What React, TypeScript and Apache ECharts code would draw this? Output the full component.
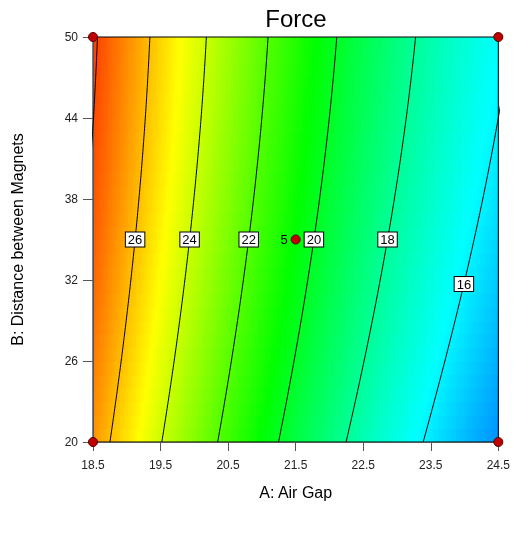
import React, { useEffect, useRef } from "react";
import * as echarts from "echarts";

// Factor ranges (A: Air Gap, B: Distance between Magnets)
const aRange = [18.5, 24.5];
const bRange = [20, 50];
const xTicks = [18.5, 19.5, 20.5, 21.5, 22.5, 23.5, 24.5];
const yTicks = [20, 26, 32, 38, 44, 50];

// Fitted quadratic response surface for Force, coded factors (-1..1)
const modelTerms = ["Intercept", "A", "B", "AB", "A^2", "B^2"];
const modelCoefs = [20.538, -6.07, 0.8485, 0.101, 1.04, -0.2185];

// Contours and their labels
const contourLevels = [16, 18, 20, 22, 24, 26, 28];
const labelLevels = [16, 18, 20, 22, 24, 26];
const labelAtB = [31.7, 35, 35, 35, 35, 35];

// Design points
const designA = [18.5, 18.5, 24.5, 24.5, 21.5];
const designB = [20, 50, 20, 50, 35];
const designRuns = [1, 1, 1, 1, 5];

// Colour scale
const colorValues = [11.9, 16.2, 20.6, 24.9, 29.2];
const colorHex = ["#0000ff", "#00ffff", "#00ff00", "#ffff00", "#ff0000"];

const FONT = "'Liberation Sans', Arial, sans-serif";

const codeA = (A: number) => (A - (aRange[0] + aRange[1]) / 2) / ((aRange[1] - aRange[0]) / 2);
const codeB = (B: number) => (B - (bRange[0] + bRange[1]) / 2) / ((bRange[1] - bRange[0]) / 2);
const uncodeA = (a: number) => (aRange[0] + aRange[1]) / 2 + a * (aRange[1] - aRange[0]) / 2;

function predict(A: number, B: number) {
  const a = codeA(A), b = codeB(B);
  const [c0, cA, cB, cAB, cA2, cB2] = modelCoefs;
  return c0 + cA * a + cB * b + cAB * a * b + cA2 * a * a + cB2 * b * b;
}

// solve predict(A,B)=L for A at given B
function solveA(L: number, B: number) {
  const b = codeB(B);
  const [c0, cA, cB, cAB, cA2, cB2] = modelCoefs;
  const p = cA2;
  const q = cA + cAB * b;
  const r = c0 + cB * b + cB2 * b * b - L;
  const disc = q * q - 4 * p * r;
  if (disc < 0) return NaN;
  const a = (-q - Math.sqrt(disc)) / (2 * p);
  return uncodeA(a);
}

function hexToRgb(h: string) {
  return [parseInt(h.slice(1, 3), 16), parseInt(h.slice(3, 5), 16), parseInt(h.slice(5, 7), 16)];
}
const stopRgb = colorHex.map(hexToRgb);

function colorFor(v: number) {
  if (v <= colorValues[0]) return colorHex[0];
  const n = colorValues.length;
  if (v >= colorValues[n - 1]) return colorHex[n - 1];
  let i = 0;
  while (i < n - 2 && v > colorValues[i + 1]) i++;
  const t = (v - colorValues[i]) / (colorValues[i + 1] - colorValues[i]);
  const c0 = stopRgb[i], c1 = stopRgb[i + 1];
  const c = c0.map((x, k) => Math.round(x + (c1[k] - x) * t));
  return `rgb(${c[0]},${c[1]},${c[2]})`;
}

export default function App() {
  const ref = useRef<HTMLDivElement>(null);
  useEffect(() => {
    if (!ref.current) return;
    const chart = echarts.init(ref.current, null, { renderer: "svg" });

    const NX = 150, NY = 30;
    const dA = (aRange[1] - aRange[0]) / NX;
    const dB = (bRange[1] - bRange[0]) / NY;
    const cells: number[][] = [];
    for (let i = 0; i < NX; i++) {
      for (let j = 0; j < NY; j++) {
        const A0 = aRange[0] + i * dA, B0 = bRange[0] + j * dB;
        cells.push([A0, A0 + dA, B0, B0 + dB, predict(A0 + dA / 2, B0 + dB / 2)]);
      }
    }

    const contourSeries = contourLevels.map((L) => {
      const pts: number[][] = [];
      for (let B = bRange[0]; B <= bRange[1] + 1e-9; B += 0.25) {
        const A = solveA(L, B);
        if (!isNaN(A)) pts.push([A, B]);
      }
      return {
        type: "line",
        data: pts,
        showSymbol: false,
        symbol: "none",
        clip: true,
        silent: true,
        z: 3,
        lineStyle: { color: "#000", width: 1 },
      };
    });

    const labelData = labelLevels.map((L, i) => [solveA(L, labelAtB[i]), labelAtB[i], L]);

    const designData = designA.map((A, i) => ({
      value: [A, designB[i]],
      label: designRuns[i] > 1
        ? { show: true, formatter: String(designRuns[i]), position: "left", distance: 3, fontSize: 13, color: "#000", fontFamily: FONT }
        : { show: false },
    }));

    chart.setOption({
      animation: false,
      grid: { left: 93, top: 37, width: 406, height: 405, show: true, borderColor: "#000", borderWidth: 1, backgroundColor: "transparent" },
      graphic: [
        {
          type: "text",
          x: 296,
          y: 18,
          style: { text: "Force", textAlign: "center", textVerticalAlign: "middle", fontSize: 24, fontFamily: FONT, fill: "#000" },
        },
      ],
      xAxis: {
        type: "value",
        min: aRange[0],
        max: aRange[1],
        name: "A: Air Gap",
        nameLocation: "middle",
        nameGap: 42,
        nameTextStyle: { fontSize: 16, color: "#000", fontFamily: FONT },
        axisLine: { show: true, lineStyle: { color: "#555", width: 1 } },
        axisTick: { show: true, length: 9, customValues: xTicks, lineStyle: { color: "#555" } },
        axisLabel: { customValues: xTicks, fontSize: 12, color: "#222", fontFamily: FONT, margin: 17, formatter: (v: number) => v.toFixed(1) },
        splitLine: { show: false },
      },
      yAxis: {
        type: "value",
        min: bRange[0],
        max: bRange[1],
        name: "B: Distance between Magnets",
        nameLocation: "middle",
        nameGap: 68,
        nameTextStyle: { fontSize: 16, color: "#000", fontFamily: FONT },
        axisLine: { show: true, lineStyle: { color: "#555", width: 1 } },
        axisTick: { show: true, length: 10, customValues: yTicks, lineStyle: { color: "#555" } },
        axisLabel: { customValues: yTicks, fontSize: 12, color: "#222", fontFamily: FONT, margin: 15 },
        splitLine: { show: false },
      },
      series: [
        {
          type: "custom",
          z: -1,
          silent: true,
          clip: true,
          data: cells,
          encode: { x: [0, 1], y: [2, 3] },
          renderItem: (params: any, api: any) => {
            const p0 = api.coord([api.value(0), api.value(3)]);
            const p1 = api.coord([api.value(1), api.value(2)]);
            return {
              type: "rect",
              shape: { x: p0[0], y: p0[1], width: p1[0] - p0[0] + 0.7, height: p1[1] - p0[1] + 0.7 },
              style: { fill: colorFor(api.value(4)) },
            };
          },
        },
        ...contourSeries,
        {
          type: "scatter",
          data: labelData,
          symbol: "rect",
          symbolSize: 2,
          itemStyle: { color: "rgba(0,0,0,0)", opacity: 1 },
          silent: true,
          clip: false,
          z: 4,
          label: {
            show: true,
            position: "inside",
            formatter: (p: any) => String(p.value[2]),
            fontSize: 13,
            fontFamily: FONT,
            color: "#000",
            backgroundColor: "#fff",
            borderColor: "#000",
            borderWidth: 1,
            padding: [1, 2, 0, 2],
            lineHeight: 13,
          },
        },
        {
          type: "scatter",
          data: designData,
          symbol: "circle",
          symbolSize: 9,
          clip: false,
          silent: true,
          z: 5,
          itemStyle: { color: "#c00000", borderColor: "#500000", borderWidth: 1, opacity: 1 },
        },
      ],
    });
    return () => chart.dispose();
  }, []);
  return <div ref={ref} style={{ position: "fixed", left: 0, top: 0, width: 513, height: 533 }} />;
}
